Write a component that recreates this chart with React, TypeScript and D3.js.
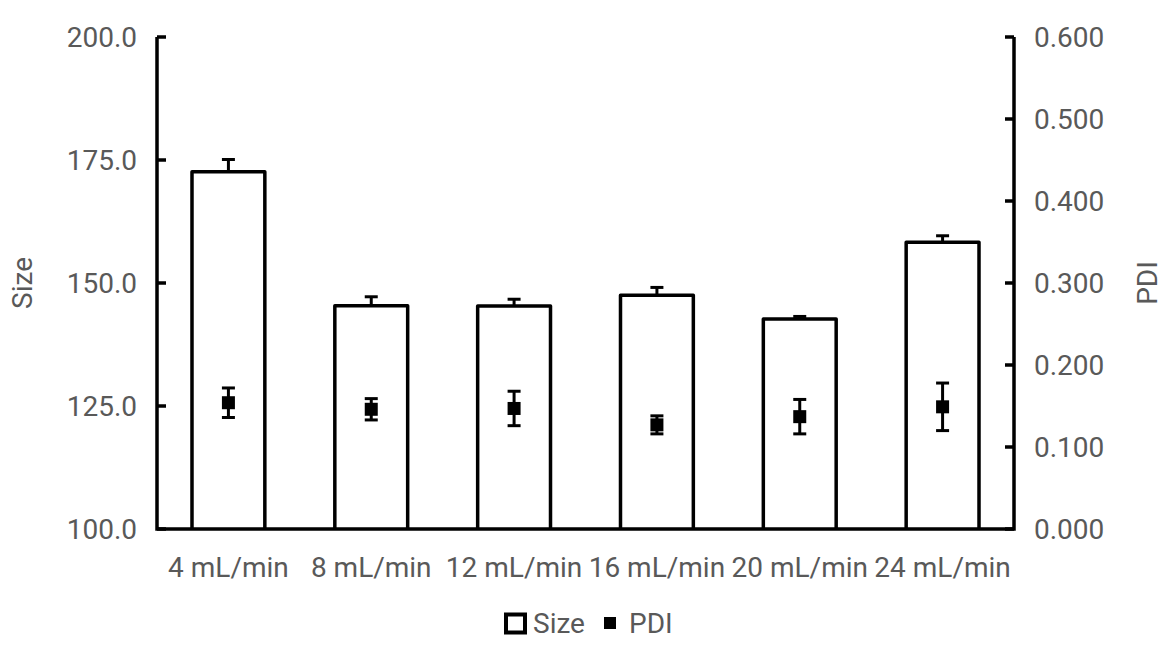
import React from "react";
import * as d3 from "d3";

const categories = ["4 mL/min", "8 mL/min", "12 mL/min", "16 mL/min", "20 mL/min", "24 mL/min"];
const sizeValues = [172.6, 145.4, 145.3, 147.5, 142.7, 158.3];
const sizeErrors = [2.5, 1.8, 1.4, 1.6, 0.5, 1.3];
const pdiValues = [0.154, 0.146, 0.147, 0.127, 0.137, 0.149];
const pdiErrors = [0.018, 0.013, 0.021, 0.011, 0.021, 0.029];
const sizeTicks = [100, 125, 150, 175, 200];
const pdiTicks = [0, 0.1, 0.2, 0.3, 0.4, 0.5, 0.6];

const W = 1174;
const H = 650;
const left = 157;
const right = 1014;
const top = 37;
const bottom = 529;
const textColor = "#595959";
const font = "Roboto, 'Noto Sans', sans-serif";
const fs = 28;

export default function App() {
  const x = d3.scaleBand<string>().domain(categories).range([left, right]).paddingInner(0.49).paddingOuter(0.245);
  const yL = d3.scaleLinear().domain([100, 200]).range([bottom, top]);
  const yR = d3.scaleLinear().domain([0, 0.6]).range([bottom, top]);
  const bw = x.bandwidth();
  const cap = 13;
  const ms = 13;
  return (
    <svg width={W} height={H} style={{ position: "absolute", left: 0, top: 0 }}>
      <rect x={0} y={0} width={W} height={H} fill="white" />
      {/* bars */}
      {categories.map((c, i) => {
        const cx = x(c)! + bw / 2;
        const yt = yL(sizeValues[i]);
        const ye = yL(sizeValues[i] + sizeErrors[i]);
        return (
          <g key={c}>
            <line x1={cx} x2={cx} y1={yt} y2={ye} stroke="black" strokeWidth={3} />
            <line x1={cx - cap / 2} x2={cx + cap / 2} y1={ye} y2={ye} stroke="black" strokeWidth={3} />
            <path
              d={`M${x(c)},${bottom} L${x(c)},${yt} L${x(c)! + bw},${yt} L${x(c)! + bw},${bottom}`}
              fill="white"
              stroke="black"
              strokeWidth={3.5}
              strokeLinejoin="round"
            />
          </g>
        );
      })}
      {/* PDI markers */}
      {categories.map((c, i) => {
        const cx = x(c)! + bw / 2;
        const yc = yR(pdiValues[i]);
        const y1 = yR(pdiValues[i] + pdiErrors[i]);
        const y2 = yR(pdiValues[i] - pdiErrors[i]);
        return (
          <g key={"p" + c}>
            <line x1={cx} x2={cx} y1={y1} y2={y2} stroke="black" strokeWidth={3} />
            <line x1={cx - cap / 2} x2={cx + cap / 2} y1={y1} y2={y1} stroke="black" strokeWidth={3} />
            <line x1={cx - cap / 2} x2={cx + cap / 2} y1={y2} y2={y2} stroke="black" strokeWidth={3} />
            <rect x={cx - ms / 2} y={yc - ms / 2} width={ms} height={ms} fill="black" />
          </g>
        );
      })}
      {/* axes */}
      <path d={`M${left},${top} L${left},${bottom} L${right},${bottom} L${right},${top}`} fill="none" stroke="black" strokeWidth={3.5} />
      {sizeTicks.map((t) => (
        <g key={"l" + t}>
          <line x1={left} x2={left + 9} y1={yL(t)} y2={yL(t)} stroke="black" strokeWidth={3.5} />
          <text x={137} y={yL(t)} textAnchor="end" dominantBaseline="central" fontSize={fs} fill={textColor} fontFamily={font}>
            {t.toFixed(1)}
          </text>
        </g>
      ))}
      {pdiTicks.map((t) => (
        <g key={"r" + t}>
          <line x1={right - 9} x2={right} y1={yR(t)} y2={yR(t)} stroke="black" strokeWidth={3.5} />
          <text x={1034} y={yR(t)} textAnchor="start" dominantBaseline="central" fontSize={fs} fill={textColor} fontFamily={font}>
            {t.toFixed(3)}
          </text>
        </g>
      ))}
      {categories.map((c) => (
        <text key={"x" + c} x={x(c)! + bw / 2} y={567} textAnchor="middle" dominantBaseline="central" fontSize={fs} fill={textColor} fontFamily={font}>
          {c}
        </text>
      ))}
      <text transform={`translate(22,${(top + bottom) / 2}) rotate(-90)`} textAnchor="middle" dominantBaseline="central" fontSize={fs} fill={textColor} fontFamily={font}>
        Size
      </text>
      <text transform={`translate(1147,${(top + bottom) / 2}) rotate(-90)`} textAnchor="middle" dominantBaseline="central" fontSize={fs} fill={textColor} fontFamily={font}>
        PDI
      </text>
      {/* legend */}
      <rect x={506} y={614.5} width={19} height={18} fill="white" stroke="black" strokeWidth={4} />
      <text x={533} y={623} dominantBaseline="central" fontSize={fs} fill={textColor} fontFamily={font}>
        Size
      </text>
      <rect x={604} y={617} width={12} height={12} fill="black" />
      <text x={629} y={623} dominantBaseline="central" fontSize={fs} fill={textColor} fontFamily={font}>
        PDI
      </text>
    </svg>
  );
}
